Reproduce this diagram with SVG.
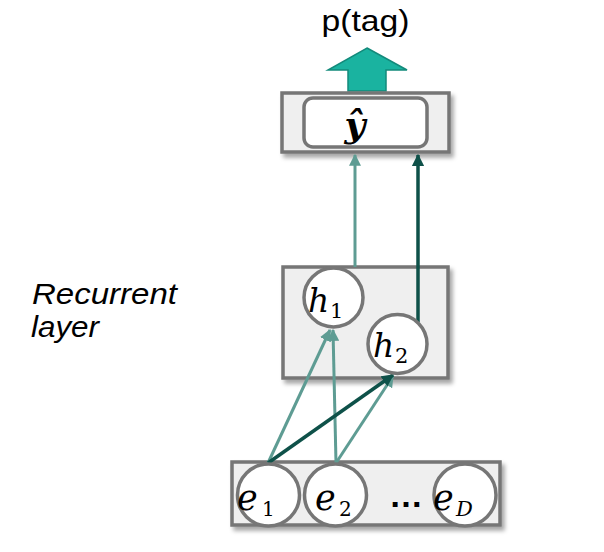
<svg xmlns="http://www.w3.org/2000/svg" width="604" height="552" viewBox="0 0 604 552">
<style>
.box{fill:#efefef;stroke:#767676;stroke-width:3.5}
.node{fill:#fff;stroke:#767676;stroke-width:3.5}
.lt{stroke:#5e9c93;stroke-width:3;fill:none}
.dk{stroke:#0e5149;stroke-width:3.5;fill:none}
.m{font-family:"DejaVu Serif","Liberation Serif",serif;font-style:italic;fill:#000}
.sub{font-family:"DejaVu Serif","Liberation Serif",serif;fill:#000}
.lbl{font-family:"Liberation Sans",Arial,sans-serif;fill:#000}
</style>
<defs>
<filter id="sh" x="-10%" y="-10%" width="130%" height="140%">
<feDropShadow dx="3" dy="4" stdDeviation="2" flood-color="#000" flood-opacity="0.35"/>
</filter>
<marker id="al" viewBox="0 0 10 10" refX="9" refY="5" markerWidth="4" markerHeight="4" orient="auto" markerUnits="strokeWidth">
<path d="M0,0 L10,5 L0,10 z" fill="#5e9c93"/>
</marker>
<marker id="ad" viewBox="0 0 10 10" refX="9" refY="5" markerWidth="3.5" markerHeight="3.5" orient="auto" markerUnits="strokeWidth">
<path d="M0,0 L10,5 L0,10 z" fill="#0e5149"/>
</marker>
</defs>

<text class="lbl" x="365.5" y="31" font-size="30" text-anchor="middle" textLength="88" lengthAdjust="spacingAndGlyphs">p(tag)</text>
<g id="out-arrow">
<path d="M367,48 L407,70 L386,70 L386,91 L348,91 L348,70 L328,70 Z" fill="#1ab3a0" stroke="#138a7b" stroke-width="1.5"/>
</g>

<g id="label">
<text class="lbl" x="32" y="304" font-size="30" font-style="italic" textLength="145" lengthAdjust="spacingAndGlyphs">Recurrent</text>
<text class="lbl" x="31" y="337" font-size="30" font-style="italic" textLength="68" lengthAdjust="spacingAndGlyphs">layer</text>
</g>

<g id="output">
<rect class="box" x="282" y="93" width="167" height="59" filter="url(#sh)"/>
<rect class="node" x="304" y="98" width="123" height="49" rx="9"/>
<text x="355" y="137" font-family="'DejaVu Serif',serif" font-style="italic" font-weight="bold" font-size="36" text-anchor="middle">ŷ</text>
</g>

<g id="recurrent">
<rect class="box" x="283" y="267" width="165" height="111" filter="url(#sh)"/>
</g>

<g id="embed">
<rect class="box" x="232" y="462" width="268" height="63" filter="url(#sh)"/>
</g>

<g id="connectors">
<line class="lt" x1="268" y1="463" x2="330" y2="330" marker-end="url(#al)"/>
<line class="lt" x1="336" y1="463" x2="333" y2="330" marker-end="url(#al)"/>
<line class="lt" x1="336" y1="463" x2="393" y2="376" marker-end="url(#al)"/>
<line class="dk" x1="268" y1="463" x2="393" y2="375" marker-end="url(#ad)"/>
<line class="lt" x1="355" y1="267" x2="355" y2="155" marker-end="url(#al)"/>
<line class="dk" x1="418" y1="322" x2="418" y2="155" marker-end="url(#ad)"/>
</g>

<g id="h1">
<circle class="node" cx="333.5" cy="297.5" r="29.5"/>
<text class="m" x="308" y="312" font-size="33">h</text>
<text class="sub" x="330" y="318" font-size="21">1</text>
</g>
<g id="h2">
<circle class="node" cx="397.5" cy="344" r="29.5"/>
<text class="m" x="373" y="357" font-size="33">h</text>
<text class="sub" x="395" y="363" font-size="21">2</text>
</g>

<g id="e1">
<circle class="node" cx="268.5" cy="495" r="31"/>
<text class="m" x="237" y="510" font-size="35">e</text>
<text class="sub" x="262" y="516" font-size="20">1</text>
</g>
<g id="e2">
<circle class="node" cx="335.5" cy="495" r="31"/>
<text class="m" x="315" y="510" font-size="35">e</text>
<text class="sub" x="339" y="516" font-size="20">2</text>
</g>
<g id="dots">
<text class="lbl" x="389" y="507" font-size="34" font-weight="bold">…</text>
</g>
<g id="eD">
<circle class="node" cx="465" cy="495" r="31"/>
<text class="m" x="433" y="510" font-size="35">e</text>
<text class="m" x="456" y="516" font-size="21">D</text>
</g>
</svg>
